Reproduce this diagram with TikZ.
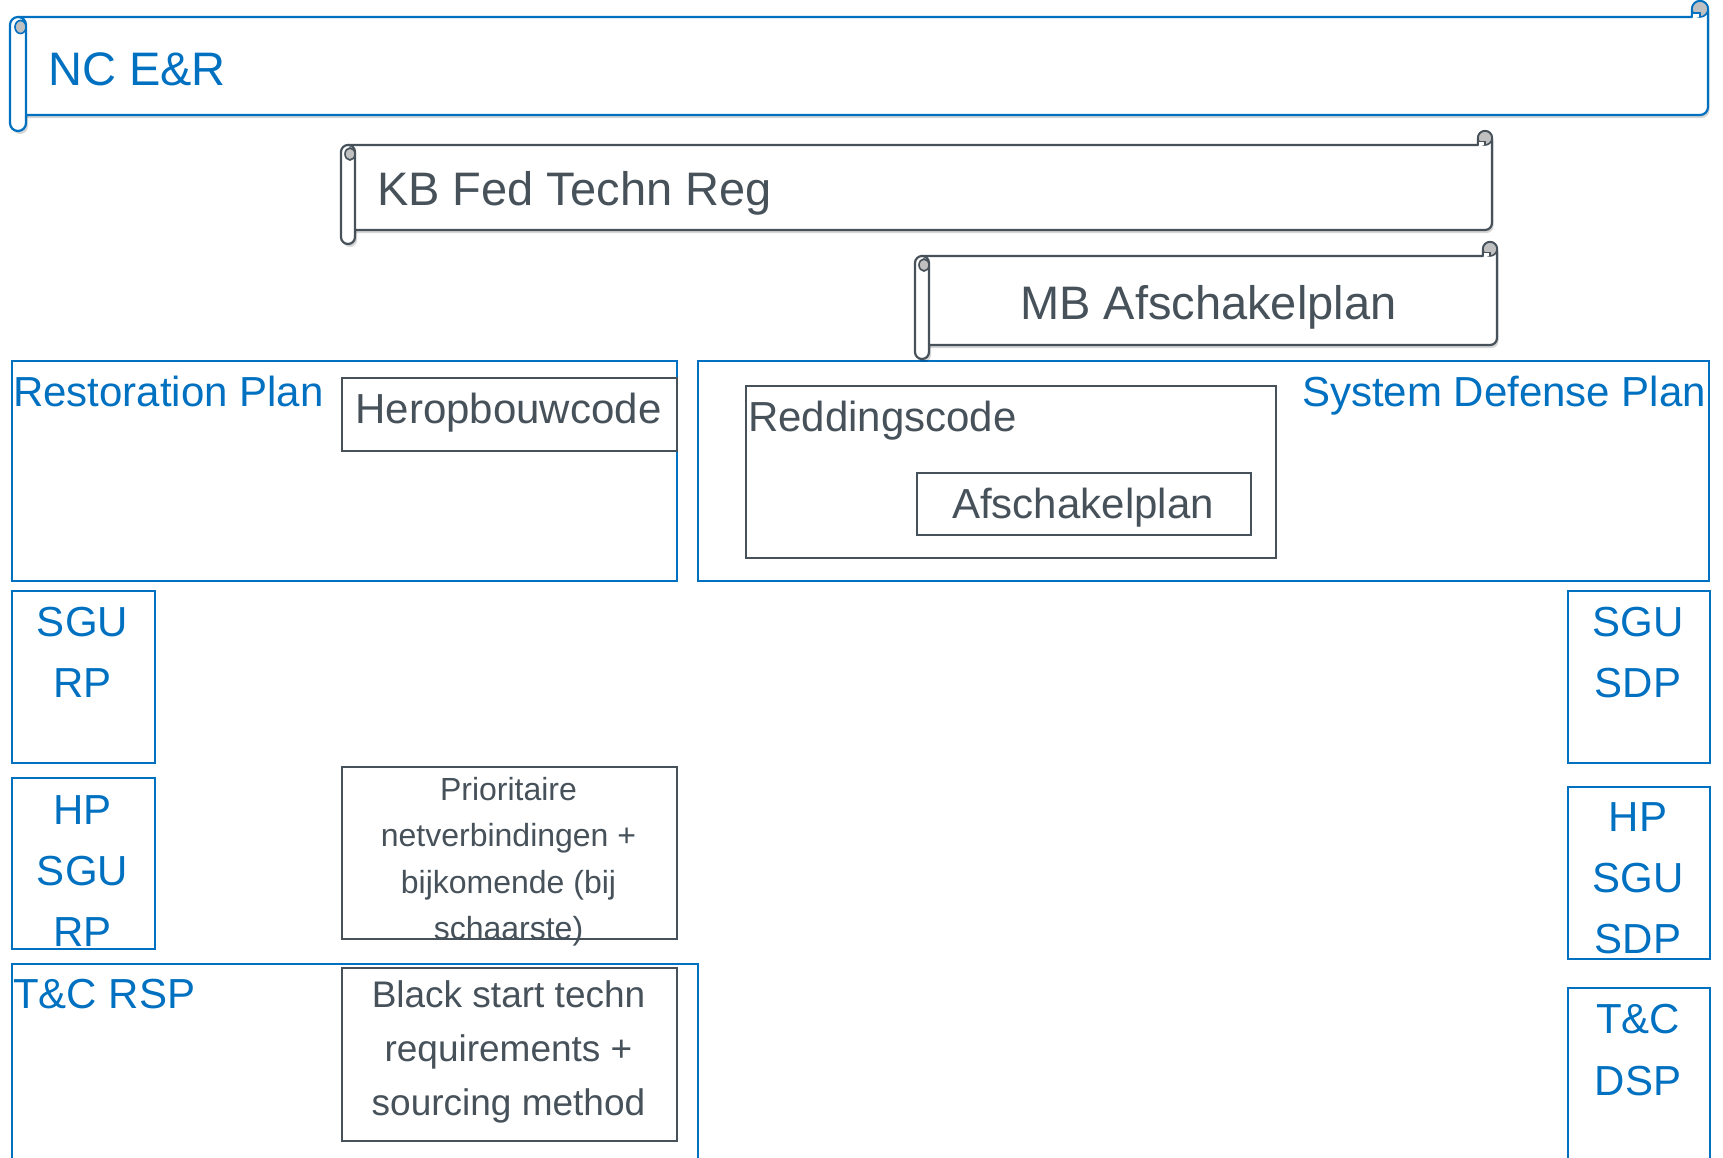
\documentclass[tikz,border=0pt]{standalone}
\usepackage{fontspec}
\setmainfont{Liberation Sans}
\usetikzlibrary{shadows}
\definecolor{myblue}{RGB}{0,112,192}
\definecolor{mygray}{RGB}{70,81,90}
\definecolor{curlgray}{RGB}{192,192,192}
\tikzset{
  bluebox/.style={draw=myblue,line width=2pt,inner sep=0pt,anchor=north west},
  graybox/.style={draw=mygray,line width=2.2pt,inner sep=0pt,anchor=north west},
  bluelabel/.style={text=myblue,inner sep=0pt,font=\fontsize{42}{50}\selectfont},
  graylabel/.style={text=mygray,inner sep=0pt,font=\fontsize{42}{50}\selectfont},
  scrolllabel/.style={inner sep=0pt,font=\fontsize{47}{56}\selectfont},
  smalllabel/.style={text=mygray,inner sep=0pt,font=\fontsize{32}{43}\selectfont},
  midlabel/.style={text=mygray,inner sep=0pt,font=\fontsize{37}{54}\selectfont},
}
\newcommand\hscroll[6]{% #1 L, #2 Yt, #3 R, #4 Yb, #5 ch, #6 colour
  \pgfmathsetmacro\sL{#1}\pgfmathsetmacro\sT{#2}\pgfmathsetmacro\sR{#3}\pgfmathsetmacro\sB{#4}%
  \pgfmathsetmacro\sC{#5}\pgfmathsetmacro\sH{#5/2}\pgfmathsetmacro\sQ{#5/4}%
  \fill[black,opacity=0.16,rounded corners=\sH pt] (\sL+2,\sT+3) rectangle (\sL+\sC+2,\sB+\sC+3);
  \filldraw[fill=white,draw=#6,line width=2.2pt,line join=round,
     drop shadow={shadow xshift=1.5pt,shadow yshift=-3pt,opacity=0.16,fill=black}]
     (\sL+\sH,\sT) -- (\sR-\sC,\sT) -- (\sR-\sC,\sT-\sH)
     arc[start angle=180,end angle=0,radius=\sH pt]
     -- (\sR,\sB-\sH) arc[start angle=0,end angle=-90,radius=\sH pt]
     -- (\sL+\sH,\sB) -- cycle;
  \filldraw[fill=curlgray,draw=#6,line width=1.6pt] (\sR-\sH,\sT-\sH) circle[radius=\sH pt];
  \filldraw[fill=white,draw=#6,line width=1.4pt] (\sR-\sC,\sT) -- (\sR-\sC,\sT-\sQ) -- (\sR-\sH,\sT-\sQ) -- (\sR-\sH,\sT);
  \filldraw[fill=white,draw=#6,line width=2.2pt,rounded corners=\sH pt] (\sL,\sT) rectangle (\sL+\sC,\sB+\sC);
  \filldraw[fill=curlgray,draw=#6,line width=1.6pt] (\sL+\sC-\sQ-1.5,\sT+\sH+2) ellipse[x radius=\sQ pt+1.5pt,y radius=\sQ pt+2.5pt];
}
\begin{document}
\begin{tikzpicture}[x=1pt,y=-1pt]
\useasboundingbox (0,0) rectangle (1723,1157);
\fill[white] (0,0) rectangle (1723,1157);
\clip (0,0) rectangle (1723,1157);

% boxes
\node[bluebox,minimum width=665pt,minimum height=220pt] (rp) at (11,360) {};
\node[graybox,minimum width=335pt,minimum height=73pt] (hc) at (341,377) {};
\node[bluebox,minimum width=1011pt,minimum height=220pt] (sdp) at (697,360) {};
\node[graybox,minimum width=530pt,minimum height=172pt] (rc) at (745,385) {};
\node[graybox,minimum width=334pt,minimum height=62pt] (ap) at (916,472) {};
\node[bluebox,minimum width=143pt,minimum height=172pt] (sgurp) at (11,590) {};
\node[bluebox,minimum width=143pt,minimum height=171pt] (hpsgurp) at (11,777) {};
\node[graybox,minimum width=335pt,minimum height=172pt] (prio) at (341,766) {};
\node[bluebox,minimum width=686pt,minimum height=260pt] (tcrsp) at (11,963) {};
\node[graybox,minimum width=335pt,minimum height=173pt] (bs) at (341,967) {};
\node[bluebox,minimum width=142pt,minimum height=172pt] (sgusdp) at (1567,590) {};
\node[bluebox,minimum width=142pt,minimum height=172pt] (hpsgusdp) at (1567,786) {};
\node[bluebox,minimum width=142pt,minimum height=260pt] (tcdsp) at (1567,987) {};

% scrolls
\hscroll{10}{17}{1708}{115}{16}{myblue}
\hscroll{341}{145}{1492}{230}{14}{mygray}
\hscroll{915}{256}{1497}{345}{14}{mygray}

\node[scrolllabel,text=myblue,anchor=base west] (ncer) at (48,85) {NC E\&R};
\node[scrolllabel,text=mygray,anchor=base west] (kb) at (377,205) {KB Fed Techn Reg};
\node[scrolllabel,text=mygray,anchor=base west] (mb) at (1020,319) {MB Afschakelplan};

% labels
\node[bluelabel,anchor=base west] (rpl) at (13,406) {Restoration Plan};
\node[graylabel,anchor=base] (hcl) at (508.5,423) {Heropbouwcode};
\node[bluelabel,anchor=base west] (sdpl) at (1302,406) {System Defense Plan};
\node[graylabel,anchor=base west] (rcl) at (748,431) {Reddingscode};
\node[graylabel,anchor=base] (apl) at (1083,518) {Afschakelplan};

\node[bluelabel,anchor=base] (sgurp1) at (82.5,636) {SGU};
\node[bluelabel,anchor=base] (sgurp2) at (82.5,697) {RP};
\node[bluelabel,anchor=base] (hpsgurp1) at (82.5,824) {HP};
\node[bluelabel,anchor=base] (hpsgurp2) at (82.5,885) {SGU};
\node[bluelabel,anchor=base] (hpsgurp3) at (82.5,946) {RP};

\node[bluelabel,anchor=base] (sgusdp1) at (1638,636) {SGU};
\node[bluelabel,anchor=base] (sgusdp2) at (1638,697) {SDP};
\node[bluelabel,anchor=base] (hpsgusdp1) at (1638,831) {HP};
\node[bluelabel,anchor=base] (hpsgusdp2) at (1638,892) {SGU};
\node[bluelabel,anchor=base] (hpsgusdp3) at (1638,953) {SDP};
\node[bluelabel,anchor=base] (tcdsp1) at (1638,1033) {T\&C};
\node[bluelabel,anchor=base] (tcdsp2) at (1638,1095) {DSP};

\node[bluelabel,anchor=base west] (tcrspl) at (13,1008) {T\&C RSP};

\node[smalllabel,anchor=base] (prio1) at (508.5,800) {Prioritaire};
\node[smalllabel,anchor=base] (prio2) at (508.5,846.5) {netverbindingen +};
\node[smalllabel,anchor=base] (prio3) at (508.5,893) {bijkomende (bij};
\node[smalllabel,anchor=base] (prio4) at (508.5,939.5) {schaarste)};

\node[midlabel,anchor=base] (bs1) at (508.5,1007) {Black start techn};
\node[midlabel,anchor=base] (bs2) at (508.5,1061) {requirements +};
\node[midlabel,anchor=base] (bs3) at (508.5,1115) {sourcing method};
\end{tikzpicture}
\end{document}
